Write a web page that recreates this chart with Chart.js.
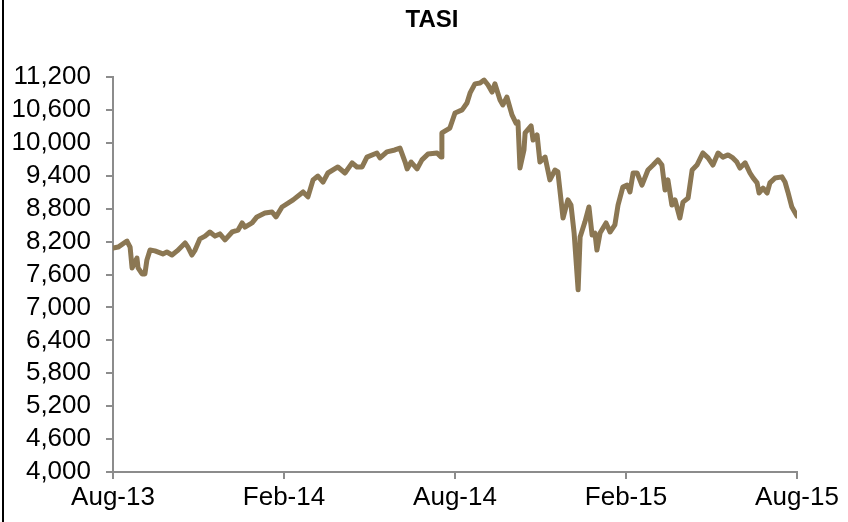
<!DOCTYPE html>
<html lang="en">
<head>
    <meta charset="UTF-8">
    <title>TASI</title>
    <style>
        body {
            margin: 0;
            background: #ffffff;
        }
        #wrap {
            width: 848px;
            height: 522px;
            position: relative;
        }
    </style>
</head>
<body>
    <div id="wrap">
        <canvas id="tasiChart" width="848" height="522"></canvas>
    </div>
    <script src="https://cdn.jsdelivr.net/npm/chart.js"></script>
    <script>
        // months since Aug-13 and index level
        const months = [
            0, 0.18, 0.49, 0.6, 0.67, 0.77, 0.84, 0.88, 1.02, 1.12,
            1.19, 1.3, 1.47, 1.75, 1.89, 2.07, 2.25, 2.53, 2.63, 2.77,
            2.88, 3.05, 3.23, 3.4, 3.58, 3.75, 3.93, 4.18, 4.39, 4.53,
            4.63, 4.88, 5.05, 5.33, 5.58, 5.72, 5.93, 6.32, 6.67, 6.84,
            7.02, 7.19, 7.37, 7.54, 7.89, 8.14, 8.39, 8.56, 8.74, 8.91,
            9.26, 9.37, 9.61, 9.89, 10.07, 10.25, 10.32, 10.46, 10.67, 10.84,
            11.05, 11.37, 11.51, 11.54, 11.82, 12.0, 12.25, 12.42, 12.53, 12.7,
            12.88, 13.02, 13.16, 13.3, 13.4, 13.58, 13.68, 13.82, 14.0, 14.14,
            14.21, 14.28, 14.42, 14.46, 14.67, 14.74, 14.88, 14.98, 15.16, 15.33,
            15.51, 15.61, 15.79, 15.96, 16.07, 16.18, 16.32, 16.39, 16.56, 16.7,
            16.81, 16.91, 16.98, 17.09, 17.3, 17.44, 17.61, 17.72, 17.89, 18.04,
            18.14, 18.25, 18.39, 18.56, 18.77, 18.95, 19.12, 19.26, 19.37, 19.47,
            19.61, 19.72, 19.89, 20.0, 20.18, 20.32, 20.49, 20.7, 20.88, 21.05,
            21.23, 21.4, 21.58, 21.75, 21.89, 22.0, 22.18, 22.35, 22.46, 22.6,
            22.67, 22.81, 22.95, 23.05, 23.23, 23.47, 23.58, 23.68, 23.82, 24.0
        ];
        const tasi = [
            8080, 8100, 8210, 8100, 7720, 7830, 7900, 7720, 7610, 7610,
            7865, 8045, 8030, 7975, 8010, 7955, 8030, 8175, 8100, 7955,
            8045, 8250, 8300, 8375, 8300, 8340, 8230, 8375, 8410, 8540,
            8465, 8540, 8650, 8720, 8740, 8650, 8830, 8960, 9105, 9015,
            9325, 9395, 9285, 9450, 9560, 9450, 9635, 9560, 9560, 9740,
            9815, 9725, 9835, 9870, 9905, 9650, 9525, 9650, 9525, 9690,
            9795, 9815, 9740, 10180, 10270, 10545, 10600, 10725, 10910, 11075,
            11090, 11145, 11055, 10925, 11075, 10780, 10690, 10835, 10510, 10360,
            10380, 9540, 9870, 10180, 10310, 10050, 10145, 9650, 9740, 9325,
            9505, 9470, 8630, 8960, 8865, 8355, 7320, 8285, 8560, 8830,
            8320, 8355, 8045, 8355, 8540, 8375, 8505, 8865, 9195, 9230,
            9105, 9450, 9450, 9230, 9505, 9595, 9690, 9595, 9140, 9325,
            8865, 8960, 8630, 8920, 8995, 9505, 9595, 9815, 9725, 9595,
            9815, 9740, 9780, 9725, 9650, 9540, 9635, 9450, 9360, 9270,
            9085, 9175, 9085, 9270, 9360, 9380, 9285, 9105, 8830, 8665
        ];
        const tickMonths = [0, 6, 12, 18, 24];
        const tickLabels = ['Aug-13', 'Feb-14', 'Aug-14', 'Feb-15', 'Aug-15'];
        const yMin = 4000, yMax = 11200, yStep = 600;
        const chartTitle = 'TASI';

        const points = months.map((m, i) => ({ x: m, y: tasi[i] }));
        const axisGrey = '#8c8c8c';
        const fontFamily = 'Arial, "Liberation Sans"';

        // black frame line on the left edge, and the title (drawn by hand so it sits where the original does)
        const frameAndTitle = {
            id: 'frameAndTitle',
            afterDraw(chart) {
                const c = chart.ctx;
                c.save();
                c.fillStyle = '#000000';
                c.fillRect(2, 0, 2, chart.height);
                c.font = 'bold 24px ' + fontFamily;
                c.textAlign = 'center';
                c.textBaseline = 'middle';
                c.fillText(chartTitle, 432, 20);
                c.restore();
            }
        };

        new Chart(document.getElementById('tasiChart'), {
            type: 'line',
            data: {
                datasets: [{
                    label: 'TASI',
                    data: points,
                    borderColor: '#8b7753',
                    borderWidth: 5,
                    borderJoinStyle: 'round',
                    borderCapStyle: 'round',
                    pointRadius: 0,
                    tension: 0,
                    fill: false
                }]
            },
            options: {
                responsive: false,
                animation: false,
                layout: { padding: { left: 4, right: 51, top: 77, bottom: 0 } },
                plugins: {
                    legend: { display: false },
                    tooltip: { enabled: false },
                    title: { display: false }
                },
                scales: {
                    x: {
                        type: 'linear',
                        min: 0,
                        max: 24,
                        afterBuildTicks(scale) {
                            scale.ticks = tickMonths.map(v => ({ value: v }));
                        },
                        afterFit(scale) { scale.height = 50; },
                        ticks: {
                            color: '#000000',
                            font: { family: fontFamily, size: 26 },
                            padding: 3,
                            maxRotation: 0,
                            autoSkip: false,
                            callback: v => tickLabels[tickMonths.indexOf(v)]
                        },
                        grid: {
                            display: true,
                            drawOnChartArea: false,
                            drawTicks: true,
                            tickLength: 7,
                            color: axisGrey,
                            lineWidth: 2
                        },
                        border: { display: true, color: axisGrey, width: 2 }
                    },
                    y: {
                        min: yMin,
                        max: yMax,
                        afterFit(scale) { scale.width = 109; },
                        ticks: {
                            stepSize: yStep,
                            autoSkip: false,
                            color: '#000000',
                            font: { family: fontFamily, size: 26 },
                            padding: 15,
                            callback: v => v.toLocaleString('en-US')
                        },
                        grid: {
                            display: true,
                            drawOnChartArea: false,
                            drawTicks: true,
                            tickLength: 7,
                            color: axisGrey,
                            lineWidth: 2
                        },
                        border: { display: true, color: axisGrey, width: 2 }
                    }
                }
            },
            plugins: [frameAndTitle]
        });
    </script>
</body>
</html>
